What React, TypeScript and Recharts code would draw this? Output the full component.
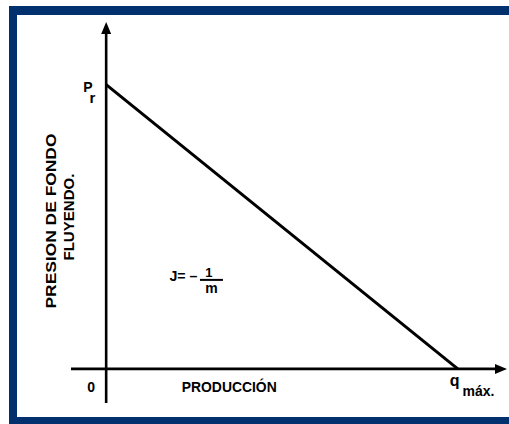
import React from "react";
import {
  LineChart,
  Line,
  XAxis,
  YAxis,
  ReferenceLine,
  ReferenceDot,
} from "recharts";

// curva IPR lineal: presion de fondo fluyendo vs produccion
const produccion = [0, 100];
const presion = [100, 0];

// extension de los ejes dibujados (con flecha)
const ejeX = [-10, 114];
const ejeY = [-12, 122];

const datos = produccion.map((q, i) => ({ q, p: presion[i] }));

const FUENTE = "'Liberation Sans', Arial, sans-serif";
const AZUL = "#00306e";

// linea con punta de flecha al final
const flecha = (props: any) => {
  const { x1, y1, x2, y2 } = props;
  const dx = x2 - x1;
  const dy = y2 - y1;
  const len = Math.sqrt(dx * dx + dy * dy) || 1;
  const ux = dx / len;
  const uy = dy / len;
  const largo = 12;
  const ancho = 5;
  const bx = x2 - ux * largo;
  const by = y2 - uy * largo;
  const pts = [
    `${x2},${y2}`,
    `${bx - uy * ancho},${by + ux * ancho}`,
    `${bx + uy * ancho},${by - ux * ancho}`,
  ].join(" ");
  return (
    <g>
      <line x1={x1} y1={y1} x2={bx + ux} y2={by + uy} stroke="#000" strokeWidth={2.6} />
      <polygon points={pts} fill="#000" />
    </g>
  );
};

const texto =
  (
    contenido: React.ReactNode,
    dx: number,
    dy: number,
    size: number,
    extra: Record<string, any> = {}
  ) =>
  (props: any) => {
    const x = props.cx + dx;
    const y = props.cy + dy;
    return (
      <text
        x={x}
        y={y}
        fontFamily={FUENTE}
        fontSize={size}
        fontWeight="bold"
        fill="#000"
        {...extra}
      >
        {contenido}
      </text>
    );
  };

const textoVertical =
  (contenido: string, dx: number, dy: number, largo: number) =>
  (props: any) => {
    const x = props.cx + dx;
    const y = props.cy + dy;
    return (
      <text
        x={x}
        y={y}
        transform={`rotate(-90, ${x}, ${y})`}
        textAnchor="middle"
        fontFamily={FUENTE}
        fontSize={15}
        fontWeight="bold"
        textLength={largo}
        lengthAdjust="spacingAndGlyphs"
        fill="#000"
      >
        {contenido}
      </text>
    );
  };

// J = -1/m, una sola etiqueta con la fraccion
const etiquetaJ = (props: any) => {
  const x = props.cx;
  const y = props.cy;
  return (
    <g>
      <text fontFamily={FUENTE} fontWeight="bold" fill="#000">
        <tspan x={x} y={y + 3} fontSize={15} textLength={28} lengthAdjust="spacingAndGlyphs">
          J= –
        </tspan>
        <tspan x={x + 39.5} y={y - 1} fontSize={13} textAnchor="middle">
          1
        </tspan>
        <tspan x={x + 42} y={y + 15} fontSize={14} textAnchor="middle">
          m
        </tspan>
      </text>
      <line x1={x + 30.5} y1={y + 2} x2={x + 53.5} y2={y + 2} stroke="#000" strokeWidth={2} />
    </g>
  );
};

const marco = (estilo: React.CSSProperties) => (
  <div style={{ position: "absolute", background: AZUL, ...estilo }} />
);

export default function App() {
  return (
    <div
      style={{
        position: "absolute",
        left: 0,
        top: 0,
        width: 509,
        height: 424,
        overflow: "hidden",
        background: "#fff",
      }}
    >
      {marco({ left: 9, top: 6, width: 500, height: 9 })}
      {marco({ left: 9, top: 6, width: 8, height: 418 })}
      {marco({ left: 9, top: 417, width: 500, height: 7 })}
      <div style={{ position: "absolute", left: 0, top: 0 }}>
        <LineChart
          width={509}
          height={424}
          data={datos}
          margin={{ top: 22, right: 2, left: 71, bottom: 21 }}
        >
          <XAxis dataKey="q" type="number" domain={ejeX} hide />
          <YAxis type="number" domain={ejeY} hide />
          <ReferenceLine
            segment={[
              { x: ejeX[0], y: 0 },
              { x: ejeX[1], y: 0 },
            ]}
            ifOverflow="visible"
            shape={flecha}
          />
          <ReferenceLine
            segment={[
              { x: 0, y: ejeY[0] },
              { x: 0, y: ejeY[1] },
            ]}
            ifOverflow="visible"
            shape={flecha}
          />
          <Line
            dataKey="p"
            stroke="#000"
            strokeWidth={3}
            dot={false}
            activeDot={false}
            isAnimationActive={false}
          />
          {/* P r */}
          <ReferenceDot
            x={0}
            y={100}
            r={0}
            ifOverflow="visible"
            shape={texto(
              <>
                P
                <tspan dx={-3} dy={11} fontSize={15}>
                  r
                </tspan>
              </>,
              -23,
              7,
              14
            )}
          />
          {/* origen */}
          <ReferenceDot
            x={0}
            y={0}
            r={0}
            ifOverflow="visible"
            shape={texto("0", -19, 23, 14)}
          />
          {/* eje x */}
          <ReferenceDot
            x={35}
            y={0}
            r={0}
            ifOverflow="visible"
            shape={texto("PRODUCCIÓN", 0, 23, 14, {
              textAnchor: "middle",
              textLength: 95,
              lengthAdjust: "spacingAndGlyphs",
            })}
          />
          {/* q max */}
          <ReferenceDot
            x={100}
            y={0}
            r={0}
            ifOverflow="visible"
            shape={texto(
              <>
                q
                <tspan dx={3} dy={10} fontSize={14}>
                  máx.
                </tspan>
              </>,
              -8,
              17,
              16
            )}
          />
          {/* J = -1/m */}
          <ReferenceDot x={18} y={32} r={0} ifOverflow="visible" shape={etiquetaJ} />
          {/* etiqueta eje y */}
          <ReferenceDot
            x={ejeX[0]}
            y={52}
            r={0}
            ifOverflow="visible"
            shape={textoVertical("PRESION  DE  FONDO", -15, 0, 175)}
          />
          <ReferenceDot
            x={ejeX[0]}
            y={52}
            r={0}
            ifOverflow="visible"
            shape={textoVertical("FLUYENDO.", 3, -4, 87)}
          />
        </LineChart>
      </div>
    </div>
  );
}
